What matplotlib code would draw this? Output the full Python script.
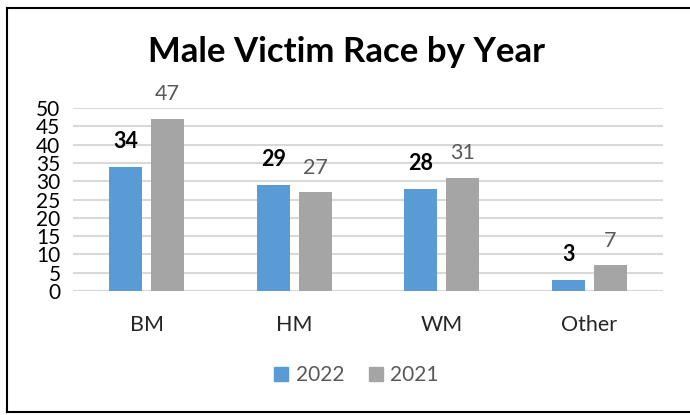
import matplotlib
matplotlib.use("Agg")
import matplotlib.pyplot as plt
import numpy as np
from matplotlib.lines import Line2D

categories = ["BM", "HM", "WM", "Other"]
series_names = ["2022", "2021"]
values_2022 = [34, 29, 28, 3]
values_2021 = [47, 27, 31, 7]
yticks = [0, 5, 10, 15, 20, 25, 30, 35, 40, 45, 50]

plt.rcParams['font.family'] = ['Lato', 'DejaVu Sans']

fig = plt.figure(figsize=(6.9, 4.15), dpi=100)
ax = fig.add_axes([73/690, 1-291/415, 590/690, (291-108)/415])

x = np.arange(len(categories))
w = 0.224
off = 0.142
c1 = "#5B9BD5"
c2 = "#A5A5A5"
b1 = ax.bar(x - off, values_2022, w, color=c1, zorder=3)
b2 = ax.bar(x + off, values_2021, w, color=c2, zorder=3)

for r, v in zip(b1, values_2022):
    ax.text(r.get_x() + r.get_width()/2, v + 4.0, str(v), ha='center', va='bottom',
            fontsize=15.5, fontweight='bold', color='black')
for r, v in zip(b2, values_2021):
    ax.text(r.get_x() + r.get_width()/2, v + 4.0, str(v), ha='center', va='bottom',
            fontsize=15.5, color='#595959')

ax.set_xlim(-0.5, 3.5)
ax.set_ylim(0, 50)
ax.set_yticks(yticks)
ax.set_yticklabels([str(t) for t in yticks], fontsize=15, color='black')
ax.set_xticks(x)
ax.set_xticklabels(categories, fontsize=15.5, color='#262626')
ax.tick_params(axis='both', length=0)
ax.tick_params(axis='x', pad=17)
ax.tick_params(axis='y', pad=9)
ax.yaxis.grid(True, color='#D9D9D9', linewidth=1.5, zorder=0)
for s in ax.spines.values():
    s.set_visible(False)
ax.axhline(0, color='#D9D9D9', linewidth=1.5, zorder=2)

fig.text(347/690, 1-52/415, "Male Victim Race by Year", ha='center', va='center',
         fontsize=25, fontweight='bold', color='black')

handles = [Line2D([], [], marker='s', linestyle='', markersize=10, color=c1),
           Line2D([], [], marker='s', linestyle='', markersize=10, color=c2)]
leg = fig.legend(handles, series_names, loc='center', bbox_to_anchor=(355/690, 1-375/415),
                 ncol=2, frameon=False, fontsize=15, handletextpad=0.2, columnspacing=1.0,
                 handlelength=1.0)
for t in leg.get_texts():
    t.set_color('#595959')

# frame
fig.add_artist(Line2D([7/690, 7/690], [1-412/415, 1-8/415], color='black', lw=1.5, transform=fig.transFigure))
fig.add_artist(Line2D([7/690, 1.0], [1-8/415, 1-8/415], color='black', lw=1.5, transform=fig.transFigure))
fig.add_artist(Line2D([7/690, 1.0], [1-412/415, 1-412/415], color='black', lw=1.5, transform=fig.transFigure))

fig.savefig("out.png", dpi=100)
